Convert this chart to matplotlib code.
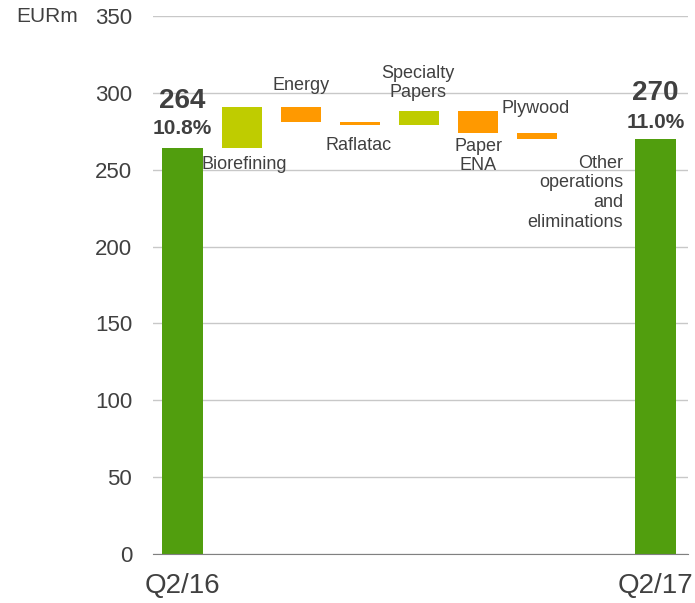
import matplotlib
matplotlib.use("Agg")
import matplotlib.pyplot as plt
import numpy as np

plt.rcParams['font.family'] = ['Liberation Sans', 'DejaVu Sans']

# bridge from Q2/16 to Q2/17, EURm
labels = ['Q2/16', 'Biorefining', 'Energy', 'Raflatac', 'Specialty\nPapers',
          'Paper\nENA', 'Plywood', 'Other\noperations\nand\neliminations', 'Q2/17']
start = 264
changes = [27, -10, -2, 9, -14, -4, 0]
end = 270
margins = ['10.8%', '11.0%']

GREEN = '#519e0e'
LIME = '#bfcc00'
ORANGE = '#ff9900'
TXT = '#404040'

fig = plt.figure(figsize=(6.95, 6.03), dpi=100)
ax = fig.add_axes([0.2201, 0.0813, 0.7699, 0.8922])

x = np.arange(len(labels))
w = 0.68

# totals
ax.bar(x[0], start, width=w, color=GREEN, zorder=3)
ax.bar(x[-1], end, width=w, color=GREEN, zorder=3)

# floating steps
level = start
for i, d in enumerate(changes, start=1):
    lo = min(level, level + d)
    ax.bar(x[i], abs(d), bottom=lo, width=w,
           color=LIME if d > 0 else ORANGE, zorder=3)
    level += d

# value and margin above the totals
ax.text(x[0], start + 31, str(start), ha='center', va='center',
        fontsize=20, fontweight='bold', color=TXT)
ax.text(x[0], start + 12.5, margins[0], ha='center', va='center',
        fontsize=15, fontweight='bold', color=TXT)
ax.text(x[-1], end + 30, str(end), ha='center', va='center',
        fontsize=20, fontweight='bold', color=TXT)
ax.text(x[-1], end + 11, margins[1], ha='center', va='center',
        fontsize=15, fontweight='bold', color=TXT)

# step names
kw = dict(fontsize=13, color=TXT, va='center', zorder=4)
ax.text(1.05, 253.4, labels[1], ha='center', **kw)
ax.text(2.0, 304.5, labels[2], ha='center', **kw)
ax.text(2.97, 266, labels[3], ha='center', **kw)
ax.text(3.98, 306.4, labels[4], ha='center', multialignment='center', **kw)
ax.text(5.0, 259, labels[5], ha='center', multialignment='center', **kw)
ax.text(5.98, 289.5, labels[6], ha='center', **kw)
ax.text(7.45, 235, labels[7], ha='right', multialignment='right', **kw)

ax.set_ylim(0, 350)
ax.set_xlim(-0.5, 8.55)
ax.set_yticks(np.arange(0, 351, 50))
ax.yaxis.grid(True, color='#c8c8c8', linewidth=1, zorder=0)
ax.set_axisbelow(True)
ax.tick_params(axis='y', length=0, pad=15, labelsize=16, labelcolor=TXT)
ax.tick_params(axis='x', length=0, pad=14, labelsize=20, labelcolor=TXT)
ax.set_xticks([x[0], x[-1]])
ax.set_xticklabels([labels[0], labels[-1]])
for s in ['top', 'right', 'left']:
    ax.spines[s].set_visible(False)
ax.spines['bottom'].set_color('#808080')
ax.spines['bottom'].set_zorder(4)

fig.text(78 / 695, 1 - 16 / 603, 'EURm', ha='right', va='center',
         fontsize=15, color=TXT)

fig.savefig('out.png', dpi=100)
